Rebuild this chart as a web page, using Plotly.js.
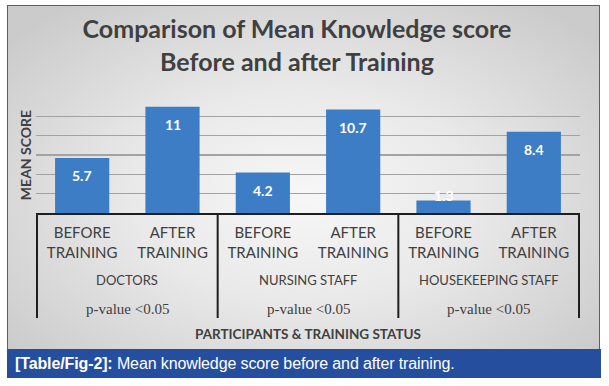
<!DOCTYPE html>
<html>
<head>
<meta charset="utf-8">
<script src="https://cdn.plot.ly/plotly-3.0.1.min.js"></script>
<style>
  html, body { margin:0; padding:0; background:#ffffff; width:609px; height:386px; overflow:hidden; }
  #frame { position:absolute; left:7px; top:5px; width:591px; height:343px; border:1px solid #4a5ca4;
           background: radial-gradient(ellipse 65% 70% at 50% 55%, #f7f7f7 0%, #e9e9e9 45%, #cbcbcb 100%); }
  #cap { position:absolute; left:7px; top:349px; width:594px; height:29px; background:#264e9f; color:#ffffff;
         font-family:"Liberation Sans Narrow","Arial Narrow","Liberation Sans",sans-serif; font-size:16px;
         letter-spacing:-0.12px; line-height:29px; padding-left:8px; box-sizing:border-box; white-space:nowrap; }
  #chart { position:absolute; left:0; top:0; width:609px; height:386px; }
</style>
</head>
<body>
<div id="frame"></div>
<div id="cap"><b>[Table/Fig-2]:</b> Mean knowledge score before and after training.</div>
<div id="chart"></div>
<script>
const groups = ['DOCTORS', 'NURSING STAFF', 'HOUSEKEEPING STAFF'];
const phases = ['BEFORE<br>TRAINING', 'AFTER<br>TRAINING'];
const beforeScores = [5.7, 4.2, 1.3];
const afterScores = [11, 10.7, 8.4];
const pValues = ['p-value &lt;0.05', 'p-value &lt;0.05', 'p-value &lt;0.05'];
const yTicks = [0, 2, 4, 6, 8, 10, 12];

const xCats = [], xLabels = [], yVals = [];
groups.forEach((g, i) => {
  phases.forEach((p, j) => {
    xCats.push(g + ' | ' + p);
    xLabels.push(p);
  });
  yVals.push(beforeScores[i], afterScores[i]);
});

const W = 609, H = 386;
const M = {l: 36, r: 29, t: 97, b: 173};
const plotH = H - M.t - M.b;
const yMax = yTicks[yTicks.length - 1];
const pxPerUnit = plotH / yMax;
const textCol = '#404040';
const bodyFont = 'Lato, "Open Sans", sans-serif';

const annotations = yVals.map((v, i) => ({
  x: i, y: v, xref: 'x', yref: 'y',
  text: '<b>' + v + '</b>', showarrow: false,
  yanchor: 'middle', yshift: (v * pxPerUnit > 30) ? -18 : 5,
  font: {family: bodyFont, size: 14, color: '#ffffff'}
}));
groups.forEach((g, gi) => {
  const xc = gi * phases.length + (phases.length - 1) / 2;
  annotations.push({
    x: xc, y: 0, xref: 'x', yref: 'paper', yanchor: 'middle', yshift: -67,
    text: g, showarrow: false,
    font: {family: bodyFont, size: 13, color: textCol}
  });
  annotations.push({
    x: xc, y: 0, xref: 'x', yref: 'paper', yanchor: 'middle', yshift: -96,
    text: pValues[gi], showarrow: false,
    font: {family: '"Liberation Serif", serif', size: 15, color: textCol}
  });
});

const shapes = [];
for (let gi = 0; gi <= groups.length; gi++) {
  const xb = gi * phases.length - 0.5;
  shapes.push({
    type: 'line', xref: 'x', yref: 'paper', x0: xb, x1: xb,
    y0: 0, y1: -105 / plotH, line: {color: '#1e1e1e', width: 2}, layer: 'above'
  });
}

const trace = {
  type: 'bar', x: xCats, y: yVals,
  marker: {color: '#3d7dc6'}, hoverinfo: 'none'
};

const layout = {
  width: W, height: H, margin: M,
  paper_bgcolor: 'rgba(0,0,0,0)', plot_bgcolor: 'rgba(0,0,0,0)',
  showlegend: false, bargap: 0.4,
  title: {
    text: '<b>Comparison of Mean Knowledge score<br>Before and after Training</b>',
    x: 297 / W, xanchor: 'center', xref: 'container', y: 1 - 38 / H, yanchor: 'top', yref: 'container',
    font: {family: bodyFont, size: 25, color: textCol}
  },
  xaxis: {
    type: 'category', tickvals: xCats, ticktext: xLabels,
    showline: true, linecolor: '#1e1e1e', linewidth: 2,
    showgrid: false, ticks: '', ticklabelstandoff: 5,
    tickfont: {family: bodyFont, size: 15, color: textCol},
    title: {text: '<b>PARTICIPANTS &amp; TRAINING STATUS</b>', standoff: 70,
            font: {family: bodyFont, size: 13.5, color: textCol}}
  },
  yaxis: {
    range: [0, yMax], tickvals: yTicks, showticklabels: false, ticks: '',
    showgrid: true, gridcolor: '#a3a3a3', gridwidth: 1.5, zeroline: false, showline: false,
    title: {text: '<b>MEAN SCORE</b>', standoff: 0, font: {family: bodyFont, size: 14, color: textCol}}
  },
  annotations: annotations,
  shapes: shapes
};

Plotly.newPlot('chart', [trace], layout, {staticPlot: true, displayModeBar: false});
</script>
</body>
</html>
